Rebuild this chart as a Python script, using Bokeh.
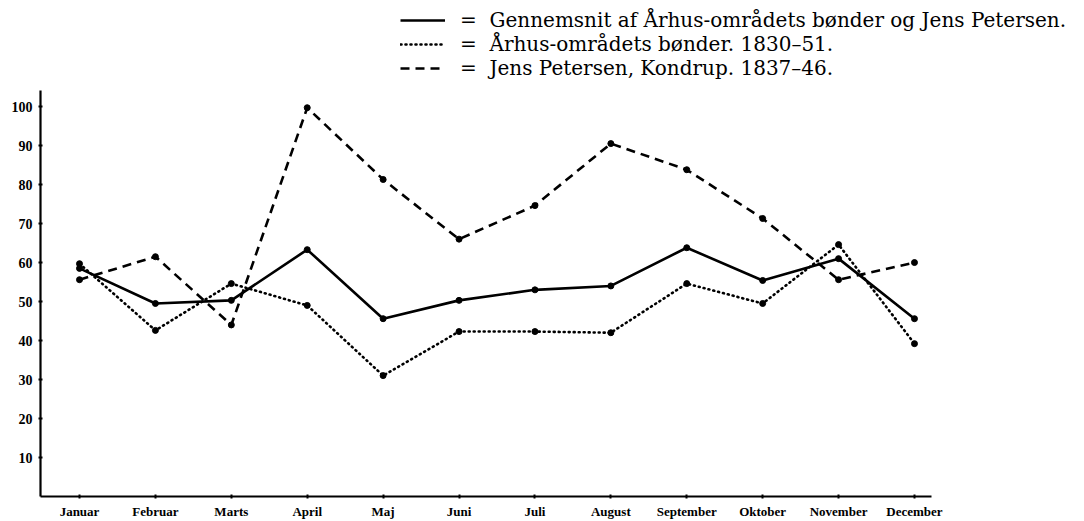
from bokeh.plotting import figure
from bokeh.models import Range1d, FixedTicker, Legend, LegendItem
from bokeh.embed import file_html
from bokeh.resources import INLINE

months = ["Januar", "Februar", "Marts", "April", "Maj", "Juni", "Juli",
          "August", "September", "Oktober", "November", "December"]
gennemsnit = [58.5, 49.5, 50.3, 63.3, 45.6, 50.3, 53.0, 54.0, 63.8, 55.4, 61.0, 45.6]
aarhus = [59.7, 42.6, 54.6, 49.0, 31.0, 42.3, 42.3, 42.0, 54.6, 49.5, 64.6, 39.2]
jens = [55.6, 61.5, 44.0, 99.7, 81.3, 66.0, 74.6, 90.5, 83.8, 71.3, 55.6, 60.0]
y_ticks = [10, 20, 30, 40, 50, 60, 70, 80, 90, 100]
legend_labels = [
    "=  Gennemsnit af Århus-områdets bønder og Jens Petersen.",
    "=  Århus-områdets bønder. 1830–51.",
    "=  Jens Petersen, Kondrup. 1837–46.",
]

xs = list(range(len(months)))
SERIF = "Liberation Serif"

p = figure(width=1084, height=521, output_backend="svg", toolbar_location=None,
           x_range=Range1d(-0.514, 13.24), y_range=Range1d(0, 127.2),
           min_border_left=40, min_border_right=0, min_border_top=0,
           min_border_bottom=25)
p.outline_line_color = None
p.xgrid.visible = False
p.ygrid.visible = False
p.background_fill_color = "white"
p.border_fill_color = "white"

r1 = p.line(xs, gennemsnit, line_color="black", line_width=2.6)
p.scatter(xs, gennemsnit, size=6, color="black")
r2 = p.line(xs, aarhus, line_color="black", line_width=2.6, line_dash="1 4", line_cap="round")
p.scatter(xs, aarhus, size=6, color="black")
r3 = p.line(xs, jens, line_color="black", line_width=2.6, line_dash="9 6")
p.scatter(xs, jens, size=6, color="black")

p.xaxis.ticker = FixedTicker(ticks=xs)
p.xaxis.major_label_overrides = {i: m for i, m in enumerate(months)}
p.xaxis.bounds = (-0.514, 11.224)
p.yaxis.ticker = FixedTicker(ticks=y_ticks)
p.yaxis.bounds = (0, 104.1)
for ax in (p.xaxis, p.yaxis):
    ax.axis_line_width = 2.2
    ax.axis_line_color = "black"
    ax.major_tick_line_color = "black"
    ax.major_tick_line_width = 2
    ax.major_tick_in = 2
    ax.major_tick_out = 2
    ax.minor_tick_line_color = None
    ax.major_label_text_font = SERIF
    ax.major_label_text_font_style = "bold"
    ax.major_label_text_color = "black"
p.xaxis.major_label_text_font_size = "13px"
p.xaxis.major_label_standoff = 5
p.yaxis.major_label_text_font_size = "14px"
p.yaxis.major_label_standoff = 6

legend = Legend(items=[LegendItem(label=legend_labels[0], renderers=[r1]),
                       LegendItem(label=legend_labels[1], renderers=[r2]),
                       LegendItem(label=legend_labels[2], renderers=[r3])],
                location=(360, 416), orientation="vertical",
                border_line_color=None, background_fill_alpha=0,
                label_text_font="DejaVu Serif", label_text_font_size="20px",
                label_text_line_height=1.0,
                label_text_color="black", glyph_width=45, glyph_height=20,
                label_standoff=15, spacing=0, padding=0, margin=0,
                label_height=22)
p.add_layout(legend, "center")

open("out.html", "w").write(file_html(p, INLINE))
